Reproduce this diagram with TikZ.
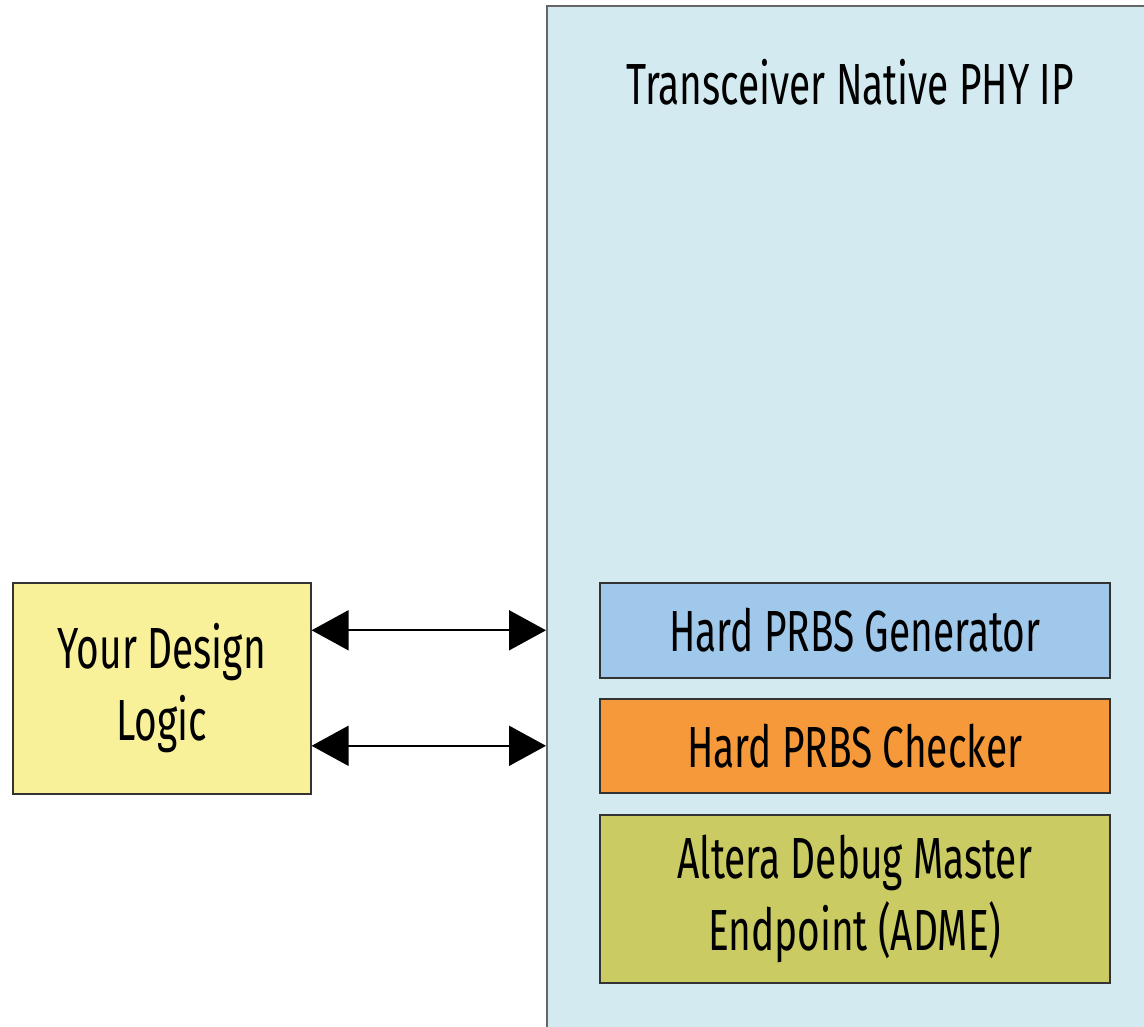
\documentclass[tikz,border=0pt]{standalone}
\usepackage{fontspec}
\setmainfont[FakeStretch=0.67]{Fira Sans}
\usetikzlibrary{arrows.meta}
\definecolor{phyfill}{HTML}{D3EBF0}
\definecolor{ydlfill}{HTML}{F9F19A}
\definecolor{genfill}{HTML}{A0C8EA}
\definecolor{chkfill}{HTML}{F5993A}
\definecolor{admfill}{HTML}{CBCB63}
\tikzset{
  blk/.style={draw=black!80, line width=1.6pt, inner sep=0pt, align=center,
    font=\fontsize{58}{72}\selectfont, anchor=north west},
  conn/.style={line width=1.8pt, {Triangle[length=37pt,width=40pt]}-{Triangle[length=37pt,width=40pt]}}
}
\begin{document}
\begin{tikzpicture}[x=1pt,y=-1pt]
\clip (0,0) rectangle (1144,1027);
\fill[white] (0,0) rectangle (1144,1027);
\node[blk, draw=black!60, line width=2pt, fill=phyfill, minimum width=620pt, minimum height=1040pt] (phy) at (546,5) {};
\node[font=\fontsize{58}{60}\selectfont] (title) at (850,82) {Transceiver Native PHY IP};
\node[blk, fill=ydlfill, minimum width=298pt, minimum height=211pt] (ydl) at (12,582) {Your Design\\Logic};
\node[blk, fill=genfill, minimum width=510pt, minimum height=95pt] (gen) at (599,582) {Hard PRBS Generator};
\node[blk, fill=chkfill, minimum width=510pt, minimum height=94pt] (chk) at (599,698) {Hard PRBS Checker};
\node[blk, fill=admfill, minimum width=510pt, minimum height=168pt] (adm) at (599,814) {Altera Debug Master\\Endpoint (ADME)};
\draw[conn] (ydl.east |- gen.west) -- (phy.west |- gen.west);
\draw[conn] (ydl.east |- chk.west) -- (phy.west |- chk.west);
\end{tikzpicture}
\end{document}
